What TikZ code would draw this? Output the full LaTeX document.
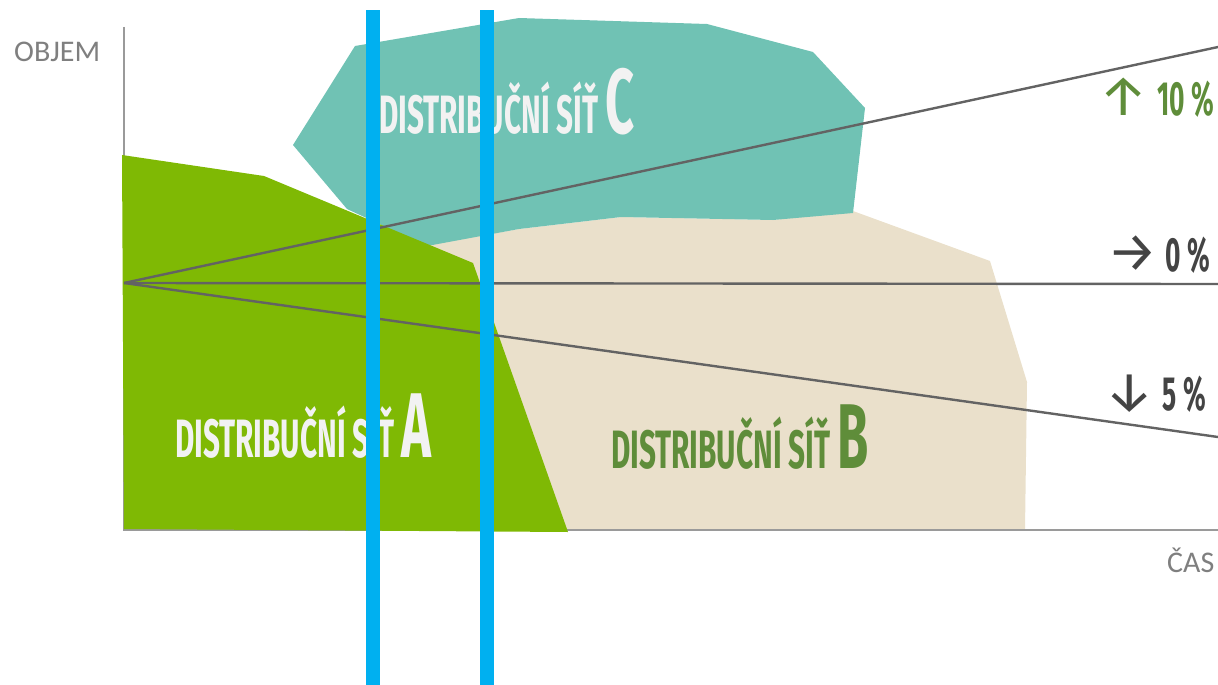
\documentclass[tikz,border=0pt]{standalone}
\usepackage{fontspec}
\setmainfont{Carlito}
\newfontfamily\condfont[FakeStretch=0.55]{Fira Sans}
\newfontfamily\arrowfont{Fira Sans}
\definecolor{greenA}{HTML}{7FB904}
\definecolor{tealC}{HTML}{70C2B4}
\definecolor{beigeB}{HTML}{EAE0CB}
\definecolor{barblue}{HTML}{00B0F0}
\definecolor{trendgrey}{HTML}{636363}
\definecolor{axisgrey}{HTML}{9A9A9A}
\definecolor{labelgrey}{HTML}{7F7F7F}
\definecolor{darkgreen}{HTML}{5F8D3A}
\definecolor{darktext}{HTML}{444444}
\definecolor{whitetext}{HTML}{F2F2F2}
\tikzset{
  axisline/.style={draw=axisgrey, line width=1.8pt},
  trendline/.style={draw=trendgrey, line width=2.4pt},
  bar/.style={fill=barblue},
  axislabel/.style={inner sep=0pt, anchor=base west, text=labelgrey, font=\fontsize{30}{30}\selectfont},
  netlabel/.style={inner sep=0pt, anchor=base west, font=\condfont\bfseries\fontsize{54}{54}\selectfont},
  pctlabel/.style={inner sep=0pt, anchor=base east, font=\condfont\bfseries\fontsize{48}{48}\selectfont},
}
\newcommand{\bigletter}[1]{{\fontsize{92}{92}\selectfont #1}}
\newcommand{\arr}[1]{{\arrowfont\mdseries\fontsize{56}{56}\selectfont #1}}
\begin{document}
\begin{tikzpicture}[x=1pt,y=-1pt]
\useasboundingbox (0,0) rectangle (1218,685);
% region B (beige)
\fill[beigeB] (400,250) -- (519,229) -- (621,217) -- (773,220) -- (853,211) -- (990,261) -- (1027,382) -- (1025,530) -- (500,530) -- cycle;
% region C (teal)
\fill[tealC] (293,145) -- (355,46) -- (519,18) -- (707,24) -- (813,52) -- (865,108) -- (853,213) -- (773,220) -- (621,217) -- (519,229) -- (427,246) -- (347,209) -- cycle;
% axes
\coordinate (ytop) at (124,27);
\coordinate (orig) at (124,530);
\coordinate (xend) at (1218,530);
\draw[axisline] (ytop) -- (orig) -- (xend);
% region A (green)
\fill[greenA] (122,155) -- (264,176) -- (473,263) -- (568,532) -- (124,529) -- cycle;
% trend lines
\coordinate (o) at (124,283);
\coordinate (up) at (1218,47);
\coordinate (flat) at (1218,284);
\coordinate (down) at (1218,437);
\draw[trendline] (o) -- (up);
\draw[trendline] (o) -- (flat);
\draw[trendline] (o) -- (down);
% labels
\node[axislabel] (objem) at (14,62) {OBJEM};
\node[axislabel] (cas) at (1167,572) {ČAS};
\node[netlabel, text=whitetext] (netA) at (175,457) {DISTRIBUČNÍ SÍŤ \bigletter{A}};
\node[netlabel, text=darkgreen] (netB) at (611,468) {DISTRIBUČNÍ SÍŤ \bigletter{B}};
\node[netlabel, text=whitetext] (netC) at (379,133) {DISTRIBUČNÍ SÍŤ \bigletter{C}};
\node[pctlabel, text=darkgreen] (pup) at (1214,115) {\arr{↑}\hspace{8pt}10 \%};
\node[pctlabel, text=darktext] (pflat) at (1210,271) {\arr{→}\hspace{8pt}0 \%};
\node[pctlabel, text=darktext] (pdown) at (1206,410) {\arr{↓}\hspace{8pt}5 \%};
% blue bars
\fill[bar] (366,10) rectangle (380,685);
\fill[bar] (480,10) rectangle (494,685);
\end{tikzpicture}
\end{document}
